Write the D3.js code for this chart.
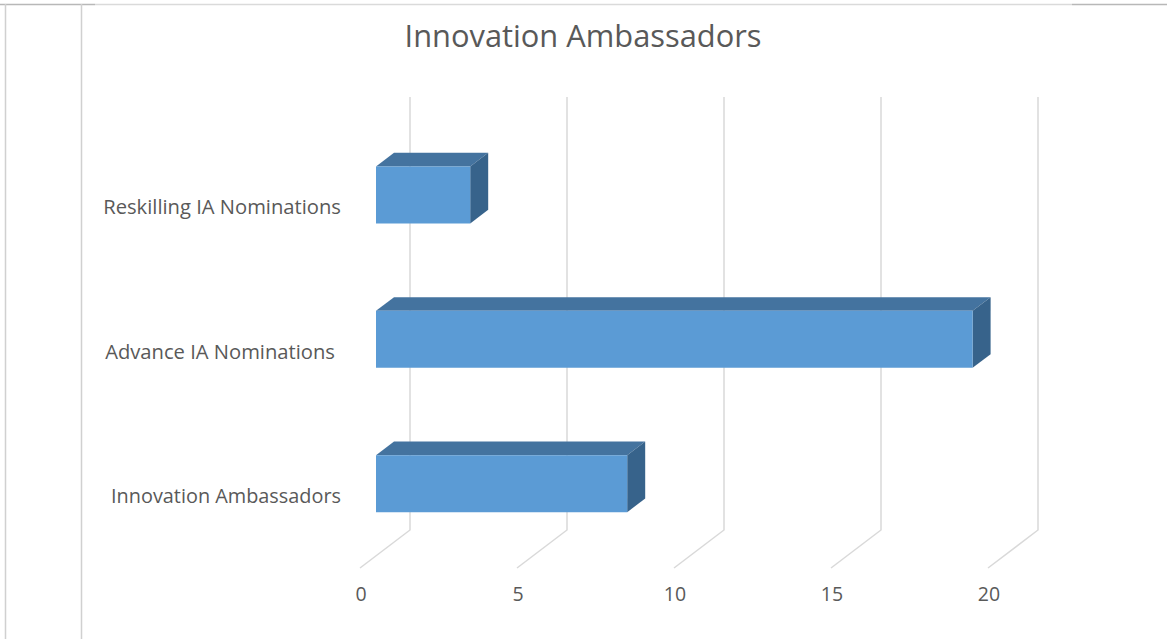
<!DOCTYPE html>
<html>
<head>
<meta charset="utf-8">
<script src="https://cdn.jsdelivr.net/npm/d3@7"></script>
<style>
  html, body { margin: 0; padding: 0; background: #fff; }
  svg { display: block; }
  text { font-family: "Open Sans", Lato, sans-serif; fill: #595959; }
</style>
</head>
<body>
<svg id="chart" width="1167" height="639"></svg>
<script>
// ---- data ----
const title = "Innovation Ambassadors";
const categories = ["Reskilling IA Nominations", "Advance IA Nominations", "Innovation Ambassadors"];
const values = [3, 19, 8];
const tickValues = [0, 5, 10, 15, 20];

// ---- layout ----
const W = 1167, H = 639;
const svg = d3.select("#chart");

// fit a text element's font size so its width matches a target
function fit(sel, target) {
  sel.each(function () {
    const fs = parseFloat(this.style.fontSize);
    const w = this.getComputedTextLength();
    if (w > 0) this.style.fontSize = (fs * target / w).toFixed(2) + "px";
  });
}

// page borders
svg.append("line").attr("x1", 0).attr("x2", 95).attr("y1", 4.5).attr("y2", 4.5).attr("stroke", "#b8b8b8").attr("stroke-width", 1.5);
svg.append("line").attr("x1", 95).attr("x2", 1072).attr("y1", 4.5).attr("y2", 4.5).attr("stroke", "#dadada").attr("stroke-width", 1.5);
svg.append("line").attr("x1", 1072).attr("x2", W).attr("y1", 4.5).attr("y2", 4.5).attr("stroke", "#b8b8b8").attr("stroke-width", 1.5);
svg.append("line").attr("x1", 5.5).attr("x2", 5.5).attr("y1", 4).attr("y2", H).attr("stroke", "#d0d0d0").attr("stroke-width", 1.5);
svg.append("line").attr("x1", 81.5).attr("x2", 81.5).attr("y1", 4).attr("y2", H).attr("stroke", "#d0d0d0").attr("stroke-width", 1.5);

// 3D projection: front plane scales, depth offset
const DX = 50, DY = -38;           // offset from front (d=0) to back (d=1)
const x = d3.scaleLinear().domain([0, 20]).range([360, 988]);
const yFrontTop = 135, yFrontBot = 568;
const y = d3.scaleBand().domain(categories).range([yFrontTop, yFrontBot]).paddingInner(0.605).paddingOuter(0.3025);
const proj = (v, yy, d) => [x(v) + DX * d, yy + DY * d];

// title
const t = svg.append("text")
  .attr("x", 583).attr("y", 47)
  .attr("text-anchor", "middle")
  .style("font-size", "28px")
  .text(title);
fit(t, 357);

// gridlines: back wall verticals + floor diagonals
const grid = svg.append("g").attr("fill", "none").attr("stroke", "#d9d9d9").attr("stroke-width", 1.5);
tickValues.forEach(tv => {
  const top = proj(tv, yFrontTop, 1);
  const backBot = proj(tv, yFrontBot, 1);
  const frontBot = proj(tv, yFrontBot, 0);
  grid.append("path").attr("d", d3.line()([top, backBot, frontBot]));
});

// tick labels
svg.append("g").selectAll("text").data(tickValues).join("text")
  .attr("x", d => x(d) + 1)
  .attr("y", 601)
  .attr("text-anchor", "middle")
  .style("font-size", "19.5px")
  .text(d => d);

// bars
const d0 = 0.32, d1 = 0.68;
const colFront = "#5b9bd5", colTop = "#44739f", colSide = "#37638b";
const bars = svg.append("g");
categories.forEach((c, i) => {
  const v = values[i];
  const yt = y(c), yb = y(c) + y.bandwidth();
  const g = bars.append("g");
  g.append("path").attr("fill", colTop)
    .attr("d", d3.line()([proj(0, yt, d0), proj(0, yt, d1), proj(v, yt, d1), proj(v, yt, d0)]) + "Z");
  g.append("path").attr("fill", colSide)
    .attr("d", d3.line()([proj(v, yt, d0), proj(v, yt, d1), proj(v, yb, d1), proj(v, yb, d0)]) + "Z");
  g.append("path").attr("fill", colFront)
    .attr("d", d3.line()([proj(0, yt, d0), proj(v, yt, d0), proj(v, yb, d0), proj(0, yb, d0)]) + "Z");
});

// category labels
const labels = svg.append("g").selectAll("text").data(categories).join("text")
  .attr("x", d => d.startsWith("Advance") ? 335 : 341)
  .attr("y", d => y(d) + y.bandwidth() / 2 + 7)
  .attr("text-anchor", "end")
  .style("font-size", "17px")
  .text(d => d);
fit(labels.filter(d => d.startsWith("Reskilling")), 238);
fit(labels.filter(d => d.startsWith("Advance")), 230);
fit(labels.filter(d => d.startsWith("Innovation")), 230);
</script>
</body>
</html>
